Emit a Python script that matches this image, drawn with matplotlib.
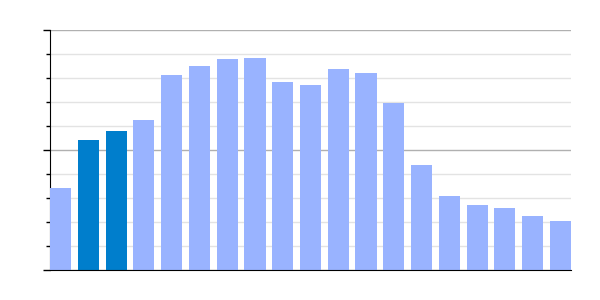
import matplotlib
matplotlib.use("Agg")
import matplotlib.pyplot as plt
from matplotlib.ticker import MultipleLocator, NullFormatter

# bar values (scale 0-100)
values = [34.2, 54.2, 57.9, 62.5, 81.3, 85.0, 87.9, 88.3, 78.3, 77.1,
          83.8, 82.1, 69.6, 43.8, 30.8, 27.1, 25.8, 22.5, 20.4]
highlight = [1, 2]

positions = list(range(len(values)))
colors = ["#007ecc" if i in highlight else "#99b3ff" for i in positions]

fig = plt.figure(figsize=(6, 3), dpi=100)
ax = fig.add_axes([50 / 600, 30 / 300, 521 / 600, 240 / 300])

width = 0.76
ax.bar(positions, values, width=width, color=colors, zorder=3)

ax.set_xlim(-width / 2, len(values) - 1 + width / 2)
ax.set_ylim(0, 100)

ax.yaxis.set_major_locator(MultipleLocator(50))
ax.yaxis.set_minor_locator(MultipleLocator(10))
ax.yaxis.set_major_formatter(NullFormatter())
ax.set_xticks([])

ax.grid(axis="y", which="major", color="#b0b0b0", linewidth=1, zorder=1)
ax.grid(axis="y", which="minor", color="#e3e3e3", linewidth=1, zorder=1)

ax.tick_params(axis="y", which="major", length=5, width=1, color="black")
ax.tick_params(axis="y", which="minor", length=3, width=1, color="black")

for side in ["top", "right"]:
    ax.spines[side].set_visible(False)
ax.spines["left"].set_color("black")
ax.spines["bottom"].set_color("black")
ax.spines["bottom"].set_zorder(4)

fig.savefig("out.png", dpi=100)
